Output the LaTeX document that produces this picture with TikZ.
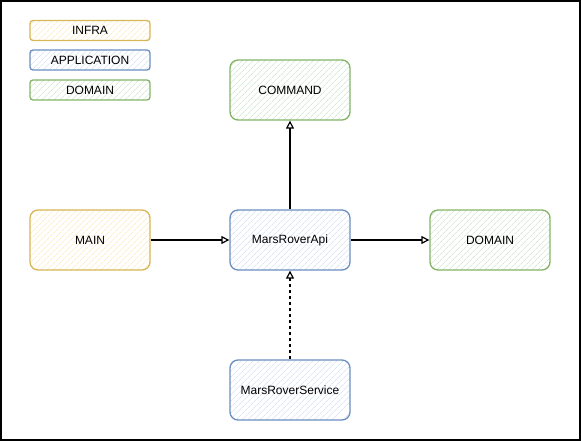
\documentclass[tikz,border=0pt]{standalone}
\usepackage{fontspec}
\setmainfont{Liberation Sans}
\usepackage{xcolor}
\usetikzlibrary{arrows.meta,patterns.meta,positioning}
\definecolor{infraline}{HTML}{D6B656}
\definecolor{infrafill}{HTML}{F7E4AE}
\definecolor{appline}{HTML}{6C8EBF}
\definecolor{appfill}{HTML}{C4D8F2}
\definecolor{domline}{HTML}{82B366}
\definecolor{domfill}{HTML}{C2DFC0}
\tikzset{
  box/.style={draw, rounded corners=8pt, line width=1.3pt, minimum width=120pt,
    minimum height=60pt, font=\fontsize{12}{14}\selectfont,
    pattern={Lines[angle=45,distance=4pt,line width=0.5pt]}},
  tag/.style={box, rounded corners=3pt, minimum height=20pt},
  infra/.style={draw=infraline, pattern color=infrafill},
  app/.style={draw=appline, pattern color=appfill},
  dom/.style={draw=domline, pattern color=domfill},
  link/.style={line width=1.2pt, -{Triangle[open,length=8pt,width=8pt]}}
}
\begin{document}
\begin{tikzpicture}[x=1pt,y=-1pt]
\useasboundingbox (0,0) rectangle (581,441);
\draw [line width=2pt] (1,1) rectangle (580,440);
% legend
\node [tag,infra] (infratag) at (90,30.5) {INFRA};
\node [tag,app] (apptag) at (90,60) {APPLICATION};
\node [tag,dom] (domtag) at (90,90) {DOMAIN};
% blocks
\node [box,dom] (command) at (290,90) {COMMAND};
\node [box,infra] (main) at (90,240) {MAIN};
\node [box,app] (api) at (290,240) {MarsRoverApi};
\node [box,dom] (domain) at (490,240) {DOMAIN};
\node [box,app] (service) at (290,390) {MarsRoverService};
% links
\draw [link] (main) -- (api);
\draw [link] (api) -- (command);
\draw [link] (api) -- (domain);
\draw [link,dashed] (service) -- (api);
\end{tikzpicture}
\end{document}
